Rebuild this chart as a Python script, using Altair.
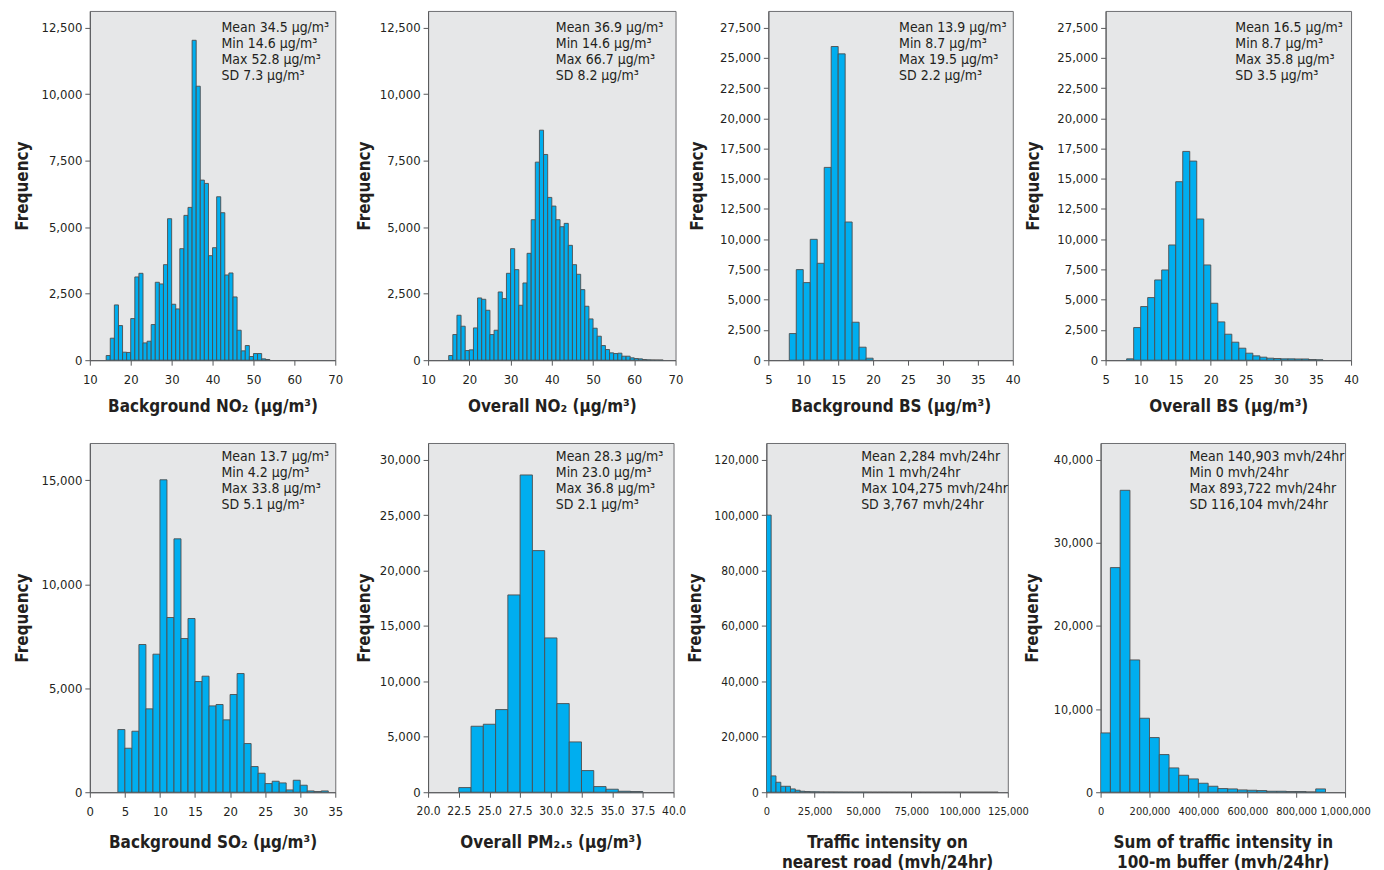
import altair as alt
import pandas as pd

FONT = "Liberation Sans Narrow, DejaVu Sans Condensed, sans-serif"
BAR_FILL = "#00AEEF"
BAR_STROKE = "#4d4d4d"
INK = "#231f20"

# ---------------- data (bin start, bin width, counts) ----------------
BG_NO2_START, BG_NO2_WIDTH = 14, 1
BG_NO2_COUNTS = [175, 826, 2077, 1301, 300, 290, 1564, 3128, 3265, 650,
                 713, 1339, 2928, 2865, 3590, 5317, 2102, 1927, 4191, 5442,
                 5742, 12023, 10296, 6768, 6643, 3928, 4228, 6142, 5542, 3203,
                 3278, 2377, 1126, 350, 550, 138, 250, 250, 50, 25]

OV_NO2_START, OV_NO2_WIDTH = 15, 1
OV_NO2_COUNTS = [175, 963, 1689, 1276, 363, 388, 1213, 2339, 2289, 1876,
                 963, 1126, 2564, 2314, 3265, 4191, 3403, 2064, 2902, 4016,
                 5279, 7443, 8644, 7731, 6117, 5792, 5279, 5016, 5142, 4316,
                 3590, 3228, 2652, 2027, 1551, 1201, 901, 550, 400, 275,
                 250, 263, 150, 150, 88, 63, 50, 25, 12, 8, 6, 5]

BG_BS_START, BG_BS_WIDTH = 8, 1
BG_BS_COUNTS = [2202, 7488, 6414, 9993, 8011, 15940, 25933, 25328, 11425, 3138, 1074, 165]

OV_BS_START, OV_BS_WIDTH = 8, 1
OV_BS_COUNTS = [110, 2698, 4432, 5176, 6635, 7461, 9525, 14756, 17261, 16463,
                11673, 7874, 4708, 3166, 2147, 1487, 991, 578, 358, 248,
                165, 138, 110, 110, 100, 100, 50, 28]

BG_SO2_START, BG_SO2_WIDTH = 4, 1
BG_SO2_COUNTS = [3016, 2117, 2935, 7106, 4010, 6641, 15030, 8405, 12190, 7394,
                 8357, 5325, 5582, 4154, 4219, 3481, 4700, 5710, 2342, 1235,
                 914, 417, 529, 449, 112, 577, 337, 64, 32, 64]

PM25_START, PM25_WIDTH = 22.5, 1
PM25_COUNTS = [421, 5952, 6132, 7455, 17796, 28617, 21794, 13918, 7996, 4539,
               1954, 511, 271, 90, 60]

TRAF_START, TRAF_WIDTH = 0, 2500
TRAF_COUNTS = [100000, 5900, 3600, 2150, 2150, 1200, 720, 360, 240, 170,
               140, 110, 100, 90, 80, 70, 60, 55, 50, 45,
               40, 36, 32, 30, 28, 25, 22, 20, 18, 16,
               15, 14, 12, 11, 10, 9, 8, 8, 7, 6,
               6, 5, 5, 4, 4, 3, 3, 2]

SUM_START, SUM_WIDTH = 0, 40000
SUM_COUNTS = [7134, 27014, 36312, 15912, 8898, 6573, 4529, 2926, 2044, 1603,
              1082, 721, 441, 401, 281, 240, 200, 120, 120, 80,
              80, 40, 401]

# ---------------- annotation text ----------------
UG = "\u03bcg/m\u00b3"
STATS = [
    ["Mean 34.5 " + UG, "Min 14.6 " + UG, "Max 52.8 " + UG, "SD 7.3 " + UG],
    ["Mean 36.9 " + UG, "Min 14.6 " + UG, "Max 66.7 " + UG, "SD 8.2 " + UG],
    ["Mean 13.9 " + UG, "Min 8.7 " + UG, "Max 19.5 " + UG, "SD 2.2 " + UG],
    ["Mean 16.5 " + UG, "Min 8.7 " + UG, "Max 35.8 " + UG, "SD 3.5 " + UG],
    ["Mean 13.7 " + UG, "Min 4.2 " + UG, "Max 33.8 " + UG, "SD 5.1 " + UG],
    ["Mean 28.3 " + UG, "Min 23.0 " + UG, "Max 36.8 " + UG, "SD 2.1 " + UG],
    ["Mean 2,284 mvh/24hr", "Min 1 mvh/24hr", "Max 104,275 mvh/24hr", "SD 3,767 mvh/24hr"],
    ["Mean 140,903 mvh/24hr", "Min 0 mvh/24hr", "Max 893,722 mvh/24hr", "SD 116,104 mvh/24hr"],
]
XTITLES = [
    "Background NO\u2082 (" + UG + ")",
    "Overall NO\u2082 (" + UG + ")",
    "Background BS (" + UG + ")",
    "Overall BS (" + UG + ")",
    "Background SO\u2082 (" + UG + ")",
    "Overall PM\u2082.\u2085 (" + UG + ")",
    ["Traffic intensity on", "nearest road (mvh/24hr)"],
    ["Sum of traffic intensity in", "100-m buffer (mvh/24hr)"],
]

# axis ticks / domains
X_TICKS = [
    [10, 20, 30, 40, 50, 60, 70],
    [10, 20, 30, 40, 50, 60, 70],
    [5, 10, 15, 20, 25, 30, 35, 40],
    [5, 10, 15, 20, 25, 30, 35, 40],
    [0, 5, 10, 15, 20, 25, 30, 35],
    [20.0, 22.5, 25.0, 27.5, 30.0, 32.5, 35.0, 37.5, 40.0],
    [0, 25000, 50000, 75000, 100000, 125000],
    [0, 200000, 400000, 600000, 800000, 1000000],
]
X_FMT = [",d", ",d", ",d", ",d", ",d", ".1f", ",d", ",d"]
X_LABEL_SIZE = [13, 13, 13, 13, 13, 12, 11, 11]
Y_LABEL_SIZE = [13, 13, 13, 13, 13, 13, 12, 12.5]
Y_TICKS = [
    [0, 2500, 5000, 7500, 10000, 12500],
    [0, 2500, 5000, 7500, 10000, 12500],
    [0, 2500, 5000, 7500, 10000, 12500, 15000, 17500, 20000, 22500, 25000, 27500],
    [0, 2500, 5000, 7500, 10000, 12500, 15000, 17500, 20000, 22500, 25000, 27500],
    [0, 5000, 10000, 15000],
    [0, 5000, 10000, 15000, 20000, 25000, 30000],
    [0, 20000, 40000, 60000, 80000, 100000, 120000],
    [0, 10000, 20000, 30000, 40000],
]
Y_MAX = [13125, 13125, 28875, 28875, 16800, 31500, 126000, 42000]

# layout (pixels) per panel
PANEL_W = [246, 248, 245, 246, 246, 246, 242, 245]
Y_TITLE_PAD = [18, 15, 22, 23, 18, 15, 22, 19]
X_TITLE_PAD = [16, 16, 16, 16, 20, 20, 20, 20]
TEXT_X = [132, 128, 131, 130, 132, 128, 95, 89]
TEXT_Y = [10, 10, 10, 10, 7, 7, 7, 7]

SERIES = [
    (BG_NO2_START, BG_NO2_WIDTH, BG_NO2_COUNTS),
    (OV_NO2_START, OV_NO2_WIDTH, OV_NO2_COUNTS),
    (BG_BS_START, BG_BS_WIDTH, BG_BS_COUNTS),
    (OV_BS_START, OV_BS_WIDTH, OV_BS_COUNTS),
    (BG_SO2_START, BG_SO2_WIDTH, BG_SO2_COUNTS),
    (PM25_START, PM25_WIDTH, PM25_COUNTS),
    (TRAF_START, TRAF_WIDTH, TRAF_COUNTS),
    (SUM_START, SUM_WIDTH, SUM_COUNTS),
]


def panel(i):
    start, width, counts = SERIES[i]
    lo = [start + k * width for k in range(len(counts))]
    df = pd.DataFrame({"lo": lo, "hi": [v + width for v in lo], "count": counts})
    xt = X_TICKS[i]
    bars = alt.Chart(df).mark_rect(
        fill=BAR_FILL, stroke=BAR_STROKE, strokeWidth=0.9, clip=True
    ).encode(
        x=alt.X("lo:Q",
                scale=alt.Scale(domain=[xt[0], xt[-1]], nice=False, zero=False),
                axis=alt.Axis(values=xt, format=X_FMT[i], title=XTITLES[i],
                              labelFontSize=X_LABEL_SIZE[i],
                              titlePadding=X_TITLE_PAD[i])),
        x2="hi:Q",
        y=alt.Y("count:Q",
                scale=alt.Scale(domain=[0, Y_MAX[i]], nice=False),
                axis=alt.Axis(values=Y_TICKS[i], format=",d", title="Frequency",
                              labelFontSize=Y_LABEL_SIZE[i],
                              titlePadding=Y_TITLE_PAD[i])),
        y2=alt.datum(0),
    )
    txt = alt.Chart(pd.DataFrame({"k": [0]})).mark_text(
        align="left", baseline="top", font=FONT, fontSize=14, lineHeight=16,
        color=INK, text=STATS[i]
    ).encode(x=alt.value(TEXT_X[i]), y=alt.value(TEXT_Y[i]))
    return alt.layer(bars, txt).properties(width=PANEL_W[i], height=350)


row1 = alt.hconcat(*[panel(i) for i in range(4)], spacing=93, bounds="flush")
row2 = alt.hconcat(*[panel(i) for i in range(4, 8)], spacing=93, bounds="flush")
chart = alt.vconcat(row1, row2, spacing=27).properties(
    padding={"left": 5, "top": 1, "right": 5, "bottom": 5}
).configure_view(
    fill="#E6E7E8", stroke="#6d6e71", strokeWidth=1
).configure_axis(
    grid=False, domainColor="#58595b", tickColor="#58595b", tickSize=5,
    labelFont=FONT, labelColor=INK, titleFont=FONT, titleColor=INK,
    titleFontWeight="bold", titleFontSize=17, labelOverlap=False,
).configure_axisX(
    labelFontSize=13, labelPadding=8, labelFlush=False,
    minExtent=22, maxExtent=22, titleLineHeight=20,
).configure_axisY(
    labelFontSize=13, labelPadding=3, minExtent=40, maxExtent=40,
)

chart.save("out.html", embed_options={"renderer": "svg", "actions": False})
